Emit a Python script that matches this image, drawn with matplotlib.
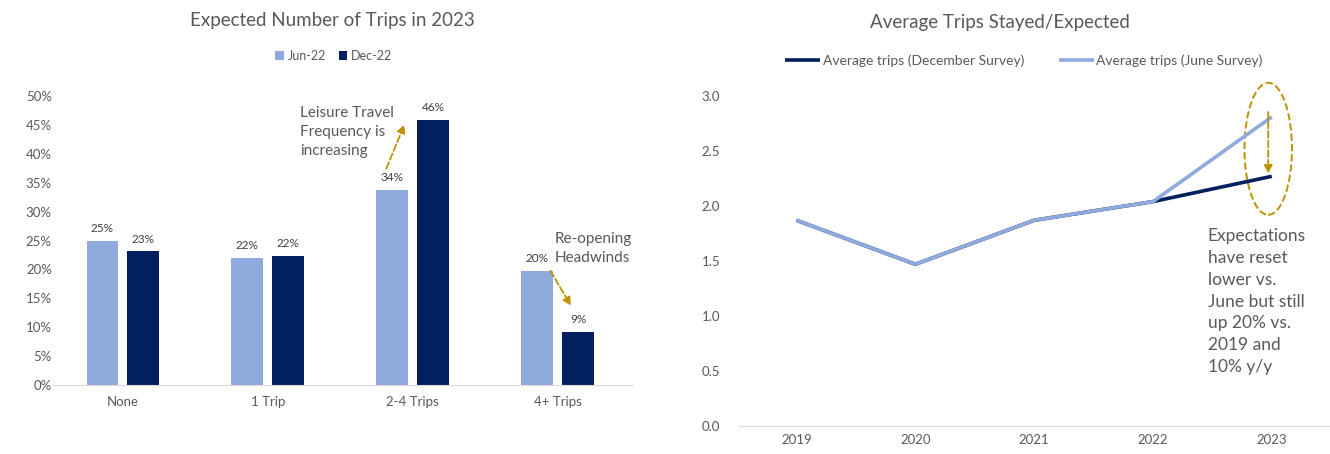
import numpy as np
import matplotlib.pyplot as plt
from matplotlib.patches import Ellipse

plt.rcParams['font.family'] = ['Lato', 'DejaVu Sans']

# survey data
categories = ['None', '1 Trip', '2-4 Trips', '4+ Trips']
jun22 = [24.9, 21.9, 33.8, 19.7]
dec22 = [23.1, 22.3, 45.9, 9.1]

years = ['2019', '2020', '2021', '2022', '2023']
avg_dec = [1.87, 1.47, 1.87, 2.04, 2.27]
avg_jun = [1.87, 1.47, 1.87, 2.04, 2.81]

light = '#8FAADC'
navy = '#002060'
grey = '#595959'
gold = '#BF9000'

fig = plt.figure(figsize=(13.3, 4.54), dpi=100)

# ---- left: grouped bars
ax1 = fig.add_axes([0.039, 0.152, 0.437, 0.6365])
x = np.arange(len(categories))
w = 0.22
ax1.bar(x - 0.141, jun22, w, color=light, label='Jun-22')
ax1.bar(x + 0.141, dec22, w, color=navy, label='Dec-22')
for i in range(len(categories)):
    ax1.text(x[i] - 0.141, jun22[i] + 1.2, '%.0f%%' % jun22[i], ha='center', va='bottom', fontsize=8.5, color='#404040')
    ax1.text(x[i] + 0.141, dec22[i] + 1.2, '%.0f%%' % dec22[i], ha='center', va='bottom', fontsize=8.5, color='#404040')
ax1.set_xlim(-0.49, 3.52)
ax1.set_ylim(0, 50)
ax1.set_yticks(np.arange(0, 51, 5))
ax1.set_yticklabels(['%d%%' % v for v in range(0, 51, 5)])
ax1.set_xticks(x)
ax1.set_xticklabels(categories)
for s in ['top', 'right', 'left']:
    ax1.spines[s].set_visible(False)
ax1.spines['bottom'].set_color('#D9D9D9')
ax1.tick_params(length=0, labelsize=9.5, colors=grey)
ax1.tick_params(axis='x', pad=8)
ax1.tick_params(axis='y', pad=0)
ax1.legend(loc='lower center', bbox_to_anchor=(0.485, 1.08), ncol=2, frameon=False,
           fontsize=9, labelcolor=grey, handlelength=0.7, handleheight=0.7,
           handletextpad=0.3, columnspacing=1.0)
fig.text(0.250, 0.955, 'Expected Number of Trips in 2023', ha='center', va='center',
         fontsize=13.5, color=grey)

# annotations on the bars
ax1.text(1.22, 48.3, 'Leisure Travel\nFrequency is\nincreasing', ha='left', va='top',
         fontsize=11, color=grey, linespacing=1.45)
ax1.annotate('', xy=(1.95, 45.5), xytext=(1.81, 37.0),
             arrowprops=dict(arrowstyle='-|>', color=gold, lw=1.3, ls='--', mutation_scale=12))
ax1.text(2.98, 26.4, 'Re-opening\nHeadwinds', ha='left', va='top',
         fontsize=11, color=grey, linespacing=1.45)
ax1.annotate('', xy=(3.10, 13.3), xytext=(2.94, 20.2),
             arrowprops=dict(arrowstyle='-|>', color=gold, lw=1.3, ls='--', mutation_scale=12))

# ---- right: average trips lines
ax2 = fig.add_axes([0.556, 0.0617, 0.444, 0.7268])
xi = np.arange(len(years))
ax2.plot(xi, avg_dec, color=navy, lw=2.6, label='Average trips (December Survey)', solid_capstyle='butt')
ax2.plot(xi, avg_jun, color=light, lw=2.6, label='Average trips (June Survey)', solid_capstyle='butt')
ax2.set_xlim(-0.48, 4.49)
ax2.set_ylim(0, 3.0)
ax2.set_yticks(np.arange(0, 3.01, 0.5))
ax2.set_yticklabels(['%.1f' % v for v in np.arange(0, 3.01, 0.5)])
ax2.set_xticks(xi)
ax2.set_xticklabels(years)
for s in ['top', 'right', 'left']:
    ax2.spines[s].set_visible(False)
ax2.spines['bottom'].set_color('#D9D9D9')
ax2.tick_params(length=0, labelsize=9.5, colors=grey)
ax2.tick_params(axis='y', pad=14)
ax2.tick_params(axis='x', pad=6)
ax2.legend(loc='lower center', bbox_to_anchor=(0.482, 1.05), ncol=2, frameon=False,
           fontsize=10, labelcolor=grey, handlelength=2.5, handletextpad=0.2, columnspacing=2.5)
fig.text(0.752, 0.950, 'Average Trips Stayed/Expected', ha='center', va='center',
         fontsize=13.5, color=grey)

ell = Ellipse((3.97, 2.52), 0.40, 1.20, fill=False, ec=gold, lw=1.4, ls='--', clip_on=False)
ax2.add_patch(ell)
ax2.annotate('', xy=(3.97, 2.27), xytext=(3.97, 2.88),
             arrowprops=dict(arrowstyle='-|>', color=gold, lw=1.3, ls='--', mutation_scale=12),
             annotation_clip=False)
ax2.text(3.46, 1.80, 'Expectations\nhave reset\nlower vs.\nJune but still\nup 20% vs.\n2019 and\n10% y/y',
         ha='left', va='top', fontsize=12.5, color=grey, linespacing=1.45)

fig.savefig('out.png', dpi=100)
